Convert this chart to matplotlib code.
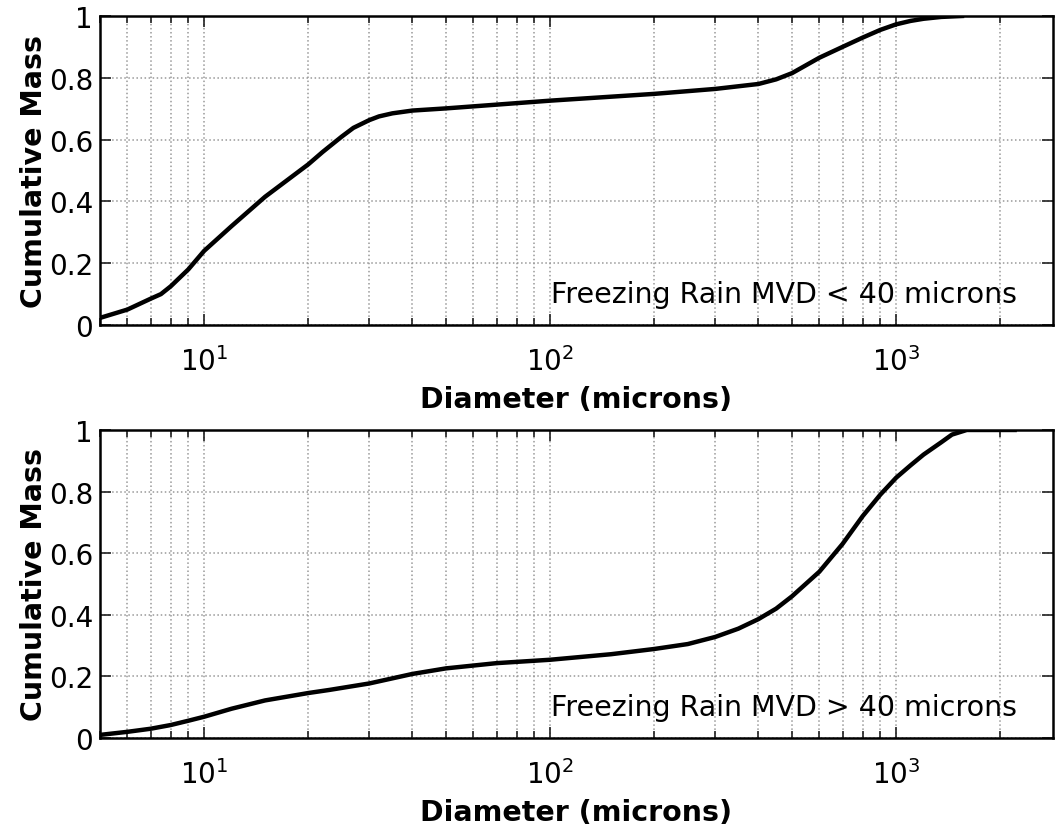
"""Cumulative mass distributions for freezing rain (two MVD classes)."""

import matplotlib
matplotlib.use('Agg')
import matplotlib.pyplot as plt
from matplotlib.ticker import LogLocator, NullFormatter
import numpy as np


diam_small = [5, 6, 7, 7.5, 8, 9, 10, 12, 15, 20, 22, 25, 27, 30, 32, 35,
              40, 50, 100, 200, 300, 400, 450, 500, 600, 700, 800, 900, 1000,
              1100, 1200, 1350, 1550]
mass_small = [0.023, 0.05, 0.085, 0.10, 0.125, 0.18, 0.24, 0.32, 0.415, 0.52,
              0.56, 0.61, 0.638, 0.663, 0.675, 0.685, 0.694, 0.701, 0.726,
              0.748, 0.764, 0.78, 0.795, 0.815, 0.865, 0.90, 0.93, 0.955,
              0.973, 0.984, 0.991, 0.997, 1.0]

diam_large = [5, 6, 7, 8, 9, 10, 12, 15, 20, 23, 30, 40, 50, 70, 100, 150,
              200, 250, 300, 350, 400, 450, 500, 600, 700, 800, 900, 1000,
              1100, 1200, 1350, 1450, 1600, 2200]
mass_large = [0.01, 0.02, 0.03, 0.042, 0.056, 0.069, 0.095, 0.122, 0.146,
              0.156, 0.177, 0.208, 0.226, 0.243, 0.254, 0.272, 0.289, 0.305,
              0.328, 0.355, 0.386, 0.42, 0.46, 0.54, 0.63, 0.72, 0.79, 0.845,
              0.885, 0.92, 0.96, 0.985, 1.0, 1.0]

labels = ['Freezing Rain MVD < 40 microns', 'Freezing Rain MVD > 40 microns']
y_ticks = [0, 0.2, 0.4, 0.6, 0.8, 1.0]
y_tick_labels = ['0', '0.2', '0.4', '0.6', '0.8', '1']

X_MIN, X_MAX = 5, 2840

plt.rcParams['font.family'] = ['DejaVu Sans']
plt.rcParams['mathtext.default'] = 'regular'

fig = plt.figure(figsize=(10.55, 8.37), dpi=100)
ax_top = fig.add_axes([0.0948, 0.6105, 0.9033, 0.3692])
ax_bot = fig.add_axes([0.0948, 0.1171, 0.9033, 0.3680])

for ax, xs, ys, txt in [(ax_top, diam_small, mass_small, labels[0]),
                        (ax_bot, diam_large, mass_large, labels[1])]:
    ax.plot(xs, ys, color='k', lw=3.2, solid_joinstyle='round', zorder=3)
    ax.set_xscale('log')
    ax.set_xlim(X_MIN, X_MAX)
    ax.set_ylim(0, 1)

    ax.xaxis.set_major_locator(LogLocator(base=10, numticks=10))
    ax.xaxis.set_minor_locator(LogLocator(base=10, subs=np.arange(2, 10),
                                          numticks=20))
    ax.xaxis.set_minor_formatter(NullFormatter())
    ax.set_yticks(y_ticks, labels=y_tick_labels)

    ax.tick_params(which='both', direction='in', top=True, right=True,
                   labelsize=20, width=1.2, color='#222222')
    ax.tick_params(which='major', length=8)
    ax.tick_params(which='minor', length=5)
    ax.tick_params(axis='x', which='major', pad=15)
    ax.tick_params(axis='y', pad=5)

    ax.grid(which='major', color='#999999', ls=':', lw=1.1)
    ax.grid(which='minor', axis='x', color='#999999', ls=':', lw=1.1)
    for sp in ax.spines.values():
        sp.set_linewidth(1.8)

    ax.set_xlabel('Diameter (microns)', fontsize=20.5, fontweight='bold',
                  labelpad=7)
    ax.set_ylabel('Cumulative Mass', fontsize=20.5, fontweight='bold',
                  labelpad=0.5)
    ax.text(0.962, 0.10, txt, transform=ax.transAxes, ha='right',
            va='center', fontsize=20.5)

fig.savefig('out.png', dpi=100)
